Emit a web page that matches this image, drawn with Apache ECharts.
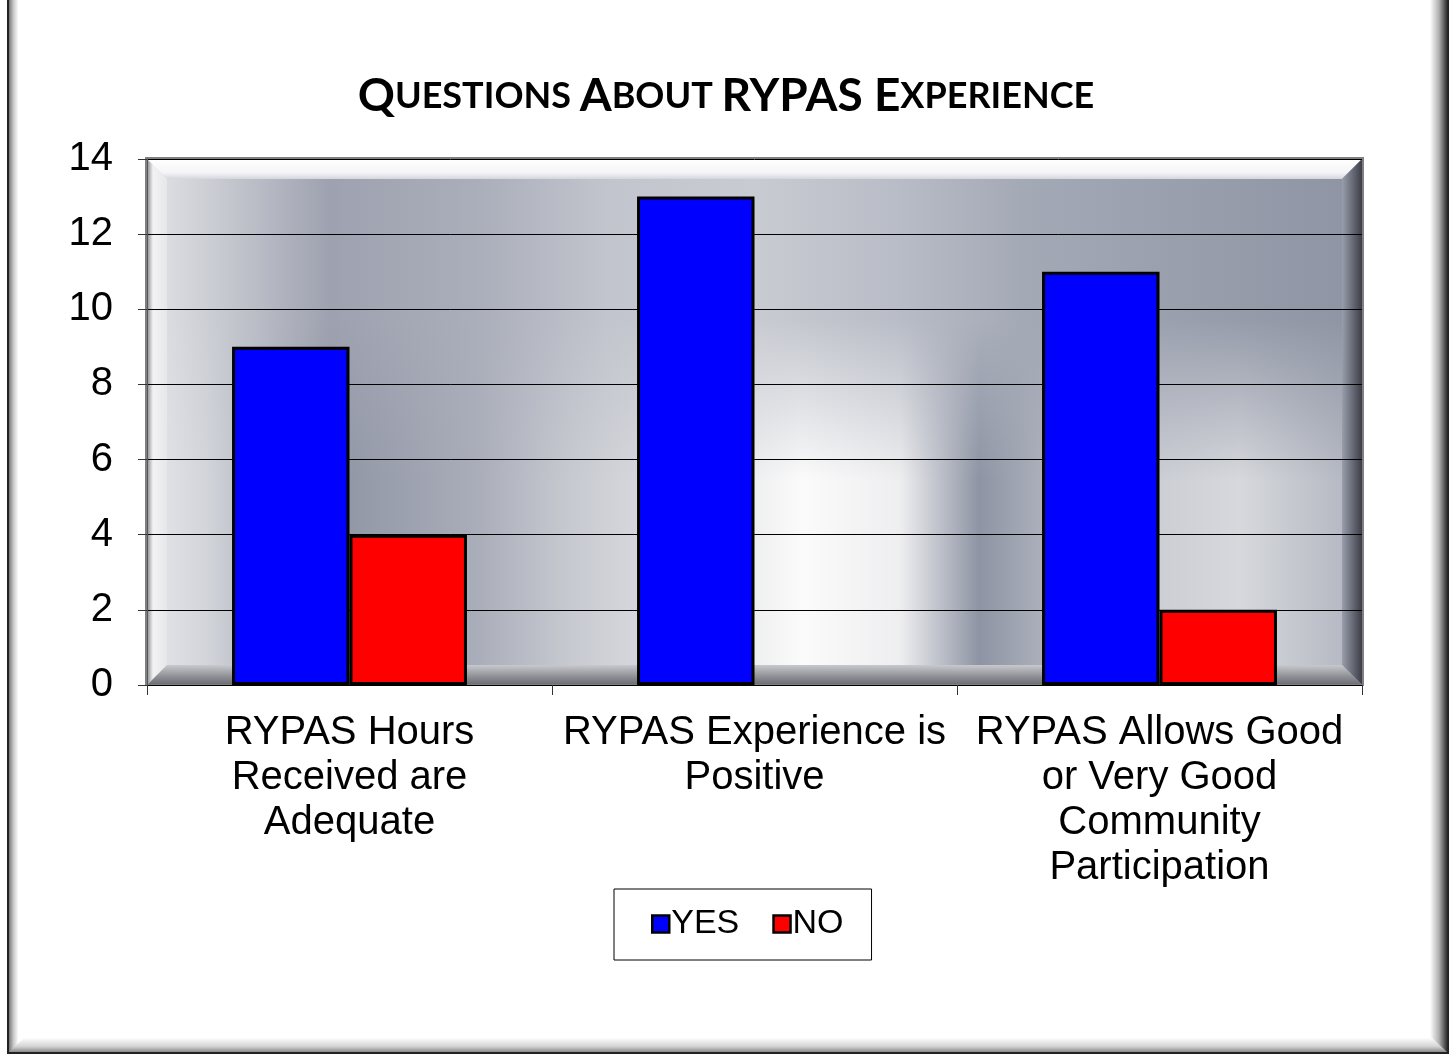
<!DOCTYPE html>
<html>
<head>
<meta charset="utf-8">
<script src="https://cdn.jsdelivr.net/npm/echarts@6/dist/echarts.min.js"></script>
<style>
  html, body { margin: 0; padding: 0; background: #fff; }
  #main { width: 1452px; height: 1055px; }
</style>
</head>
<body>
<div id="main"></div>
<script>
// data
const categories = [
  'RYPAS Hours\nReceived are\nAdequate',
  'RYPAS Experience is\nPositive',
  'RYPAS Allows Good\nor Very Good\nCommunity\nParticipation'
];
const yesValues = [9, 13, 11];
const noValues = [4, 0, 2];
const yTicks = [0, 2, 4, 6, 8, 10, 12, 14];

const chart = echarts.init(document.getElementById('main'), null, { renderer: 'canvas' });

// plot area box (pixels)
const L = 147, T = 159, R = 1362, B = 685;
const W = R - L, H = B - T;
const bev = 20;

function hGrad(stops) {
  return new echarts.graphic.LinearGradient(0, 0, 1, 0,
    stops.map(s => ({ offset: s[0], color: s[1] })));
}
function vGrad(stops) {
  return new echarts.graphic.LinearGradient(0, 0, 0, 1,
    stops.map(s => ({ offset: s[0], color: s[1] })));
}

const upperStops = [
  [0, '#e2e3e6'], [0.06, '#c8cad1'], [0.15, '#9ea2b0'], [0.27, '#aaaeba'],
  [0.38, '#c2c5cd'], [0.5, '#c9cbd2'], [0.62, '#b8bcc6'], [0.72, '#a4a9b6'],
  [0.85, '#9a9fae'], [1, '#8e94a3']];
const lowerStops = [
  [0, '#e6e7ea'], [0.05, '#d2d4da'], [0.15, '#8f94a4'], [0.27, '#a9adb9'],
  [0.35, '#c8cad1'], [0.47, '#e6e7e9'], [0.54, '#fbfbfb'], [0.62, '#eeeef0'],
  [0.685, '#8e94a4'], [0.78, '#c4c7ce'], [0.9, '#d6d8dc'], [1, '#b0b4bf']];

// plot background: upper pattern, lower pattern faded in by 2px strips
const bgGraphics = [
  { type: 'rect', z: -6, shape: { x: L, y: T, width: W, height: H },
    style: { fill: hGrad(upperStops) } }
];
const fadeTop = 320, fadeBot = 480, stripH = 2;
const nStrips = (fadeBot - fadeTop) / stripH;
for (let i = 0; i < nStrips; i++) {
  bgGraphics.push({ type: 'rect', z: -5,
    shape: { x: L, y: fadeTop + i * stripH, width: W, height: stripH },
    style: { fill: hGrad(lowerStops), opacity: (i + 1) / (nStrips + 1) } });
}
bgGraphics.push({ type: 'rect', z: -5, shape: { x: L, y: fadeBot, width: W, height: B - fadeBot },
  style: { fill: hGrad(lowerStops) } });

const option = {
  backgroundColor: '#ffffff',
  animation: false,
  title: {
    text: '{b|Q}{s|UESTIONS }{b|A}{s|BOUT }{b|RYPAS }{b|E}{s|XPERIENCE}',
    left: 'center',
    top: 68,
    textStyle: {
      rich: {
        b: { fontFamily: 'Lato', fontWeight: 'bold', fontSize: 46, color: '#000' },
        s: { fontFamily: 'Lato', fontWeight: 'bold', fontSize: 36, color: '#000' }
      }
    }
  },
  grid: { left: L, right: 1452 - R, top: T, bottom: 1055 - B, containLabel: false },
  legend: {
    data: ['YES', 'NO'],
    left: 614,
    top: 889,
    padding: [18, 28, 19, 37],
    itemGap: 33,
    itemWidth: 17,
    itemHeight: 17,
    itemStyle: { borderColor: '#000', borderWidth: 2.5 },
    borderColor: '#000',
    borderWidth: 1,
    backgroundColor: '#fff',
    textStyle: { fontFamily: 'Liberation Sans', fontSize: 34, color: '#000', padding: [0, 0, 0, -3] },
    icon: 'rect'
  },
  xAxis: {
    type: 'category',
    data: categories,
    z: 3,
    axisLine: { show: true, lineStyle: { color: '#000', width: 1 } },
    axisTick: { show: true, length: 10, lineStyle: { color: '#333' } },
    axisLabel: {
      fontFamily: 'Liberation Sans',
      fontSize: 40,
      color: '#000',
      lineHeight: 45,
      margin: 25,
      interval: 0
    }
  },
  yAxis: {
    type: 'value',
    min: 0,
    max: 14,
    interval: 2,
    z: 3,
    axisLine: { show: true, lineStyle: { color: '#555', width: 1 } },
    axisTick: { show: true, length: 9, lineStyle: { color: '#333' } },
    axisLabel: {
      fontFamily: 'Liberation Sans',
      fontSize: 40,
      color: '#000',
      margin: 34,
      formatter: v => (yTicks.indexOf(v) >= 0 ? String(v) : '')
    },
    splitLine: { show: true, lineStyle: { color: '#000', width: 1 } }
  },
  series: [
    {
      name: 'YES',
      type: 'bar',
      data: yesValues,
      barGap: '0%',
      barCategoryGap: '42%',
      z: 5,
      itemStyle: { color: '#0000ff', borderColor: '#000', borderWidth: 3 }
    },
    {
      name: 'NO',
      type: 'bar',
      data: noValues.map(v => (v === 0 ? null : v)),
      z: 5,
      itemStyle: { color: '#ff0000', borderColor: '#000', borderWidth: 3 }
    }
  ],
  graphic: [
    // outer frame
    { type: 'rect', z: -10, shape: { x: 8, y: -4, width: 1440, height: 1057 },
      style: { fill: '#fff', stroke: '#222', lineWidth: 2 } },
    { type: 'rect', z: -9, shape: { x: 9, y: 0, width: 9, height: 1052 },
      style: { fill: hGrad([[0, '#777'], [0.5, '#c8c8c8'], [1, '#fafafa']]) } },
    { type: 'rect', z: -9, shape: { x: 1430, y: 0, width: 18, height: 1052 },
      style: { fill: hGrad([[0, '#fff'], [0.5, '#b0b0b0'], [1, '#202020']]) } },
    { type: 'polygon', z: -9, shape: { points: [[9, 1052], [24, 1038], [1432, 1038], [1447, 1052]] },
      style: { fill: vGrad([[0, '#fdfdfd'], [0.6, '#d4d4d4'], [1, '#8a8a8a']]) } }
  ].concat(bgGraphics, [
    // plot bevels
    { type: 'polygon', z: -3, shape: { points: [[L, T], [R, T], [R - bev, T + bev], [L + bev, T + bev]] },
      style: { fill: vGrad([[0, '#ffffff'], [0.7, '#f4f4f6'], [1, '#d4d6dc']]) } },
    { type: 'polygon', z: -3, shape: { points: [[R, T], [R, B], [R - bev, B - bev], [R - bev, T + bev]] },
      style: { fill: hGrad([[0, '#9a9eaa'], [0.5, '#6a6e7a'], [1, '#3c3e46']]) } },
    { type: 'polygon', z: -3, shape: { points: [[L, T], [L + bev, T + bev], [L + bev, B - bev], [L, B]] },
      style: { fill: hGrad([[0, '#8a8a8e'], [0.3, '#f2f2f4'], [1, '#e6e7ea']]) } },
    { type: 'polygon', z: -3, shape: { points: [[L, B], [L + bev, B - bev], [R - bev, B - bev], [R, B]] },
      style: { fill: vGrad([[0, '#c8c9cd'], [0.6, '#8c8e94'], [1, '#6a6c72']]) } },
    { type: 'rect', z: -2, shape: { x: L - 1, y: T - 1, width: W + 2, height: H + 1 },
      style: { fill: 'none', stroke: '#808080', lineWidth: 2 } }
  ])
};

chart.setOption(option);
</script>
</body>
</html>
